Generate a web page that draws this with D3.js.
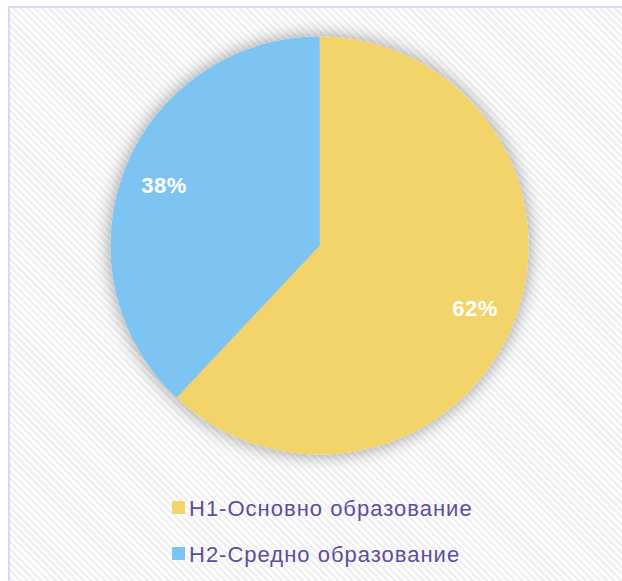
<!DOCTYPE html>
<html>
<head>
<meta charset="utf-8">
<script src="https://cdn.jsdelivr.net/npm/d3@7"></script>
<style>
  body { margin: 0; background: #ffffff; }
  svg { display: block; }
</style>
</head>
<body>
<div id="chart"></div>
<script>
var categories = ["Н1-Основно образование", "Н2-Средно образование"];
var values = [62, 38];
var colors = ["#F3D46B", "#7DC4F2"];

var w = 622;
var h = 581;
var cx = 319.5, cy = 245.5, radius = 209;

var svg = d3.select("#chart")
    .append("svg")
    .attr("width", w)
    .attr("height", h);

var defs = svg.append("defs");

//Diagonal stripe background
var pattern = defs.append("pattern")
    .attr("id", "stripes")
    .attr("patternUnits", "userSpaceOnUse")
    .attr("width", 5)
    .attr("height", 5)
    .attr("patternTransform", "rotate(45)");
pattern.append("rect")
    .attr("width", 5).attr("height", 5).attr("fill", "#ffffff");
pattern.append("rect")
    .attr("width", 5).attr("height", 2.5).attr("fill", "#efefef");

//Soft shadow around pie
var filter = defs.append("filter")
    .attr("id", "glow")
    .attr("x", "-20%").attr("y", "-20%")
    .attr("width", "140%").attr("height", "140%");
filter.append("feGaussianBlur")
    .attr("in", "SourceAlpha")
    .attr("stdDeviation", 9);
filter.append("feComponentTransfer")
    .append("feFuncA")
    .attr("type", "linear")
    .attr("slope", 0.4);
var merge = filter.append("feMerge");
merge.append("feMergeNode");
merge.append("feMergeNode").attr("in", "SourceGraphic");

//Frame
svg.append("rect")
    .attr("x", 9)
    .attr("y", 7)
    .attr("width", w + 20)
    .attr("height", h + 20)
    .attr("fill", "url(#stripes)")
    .attr("stroke", "#dcd8ee")
    .attr("stroke-width", 2);

//Pie
var pie = d3.pie().sort(null).value(d => d);
var arc = d3.arc().innerRadius(0).outerRadius(radius);
var labelArc = d3.arc().innerRadius(radius * 0.8).outerRadius(radius * 0.8);
var arcs = pie(values);

var g = svg.append("g")
    .attr("transform", "translate(" + cx + "," + cy + ")");

g.append("g")
    .attr("filter", "url(#glow)")
    .selectAll("path")
    .data(arcs)
    .join("path")
    .attr("d", arc)
    .attr("fill", (d, i) => colors[i]);

g.selectAll("text")
    .data(arcs)
    .join("text")
    .attr("transform", d => "translate(" + labelArc.centroid(d) + ")")
    .attr("text-anchor", "middle")
    .attr("dy", "0.4em")
    .attr("fill", "#ffffff")
    .style("font-family", "Liberation Sans, Arial, sans-serif")
    .style("font-weight", "bold")
    .style("font-size", "22px")
    .style("letter-spacing", "0.5px")
    .text(d => d.data + "%");

//Legend
var legend = svg.append("g")
    .selectAll("g")
    .data(categories)
    .join("g")
    .attr("transform", (d, i) => "translate(172," + (501 + i * 46) + ")");

legend.append("rect")
    .attr("width", 13)
    .attr("height", 13)
    .attr("fill", (d, i) => colors[i]);

legend.append("text")
    .attr("x", 17)
    .attr("y", 14.5)
    .attr("fill", "#5B4F9E")
    .style("font-family", "Liberation Sans, Arial, sans-serif")
    .style("font-size", "22px")
    .style("letter-spacing", "1px")
    .text(d => d);
</script>
</body>
</html>
